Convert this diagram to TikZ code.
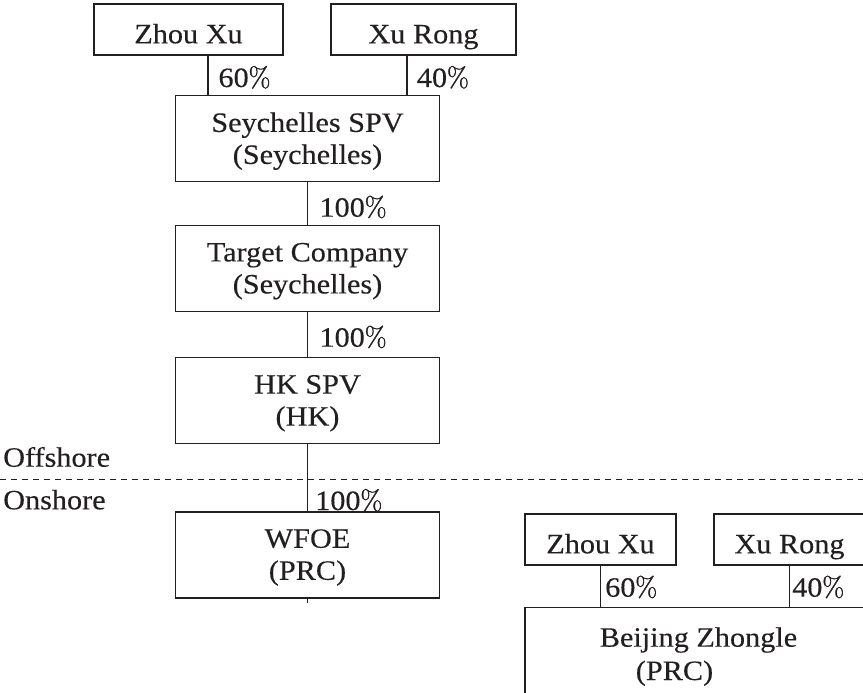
\documentclass[tikz,border=0pt]{standalone}
\usepackage{fontspec}
\setmainfont{Liberation Serif}[FakeStretch=1.08,FakeBold=0.25]
\newfontfamily\lmfont{Latin Modern Roman}[FakeBold=1.3]
\newcommand{\pc}{{\lmfont\%}}
\definecolor{ink}{HTML}{231F20}
\begin{document}
\begin{tikzpicture}[x=1pt,y=-1pt,
  font=\fontsize{28}{32}\selectfont, color=ink,
  frame/.style={draw=ink, line width=1.1pt, inner sep=0pt, minimum height=86pt, minimum width=264pt},
  owner/.style={frame, minimum height=51pt},
  txt/.style={align=center, inner sep=0pt},
  oneline/.style={anchor=base, inner sep=0pt},
  pct/.style={anchor=base west, inner sep=0pt},
  link/.style={draw=ink, line width=1.1pt},
  border/.style={draw=ink, line width=1pt, dash pattern=on 6pt off 5pt}]
\clip (0,0) rectangle (863,693);

% offshore structure
\node[owner, minimum width=189pt] (zx1) at (188.5,29.5) {};
\node[oneline] (zx1t) at ([yshift=-13.8pt]zx1.center) {Zhou Xu};
\node[owner, minimum width=185pt] (xr1) at (423.5,29.5) {};
\node[oneline] (xr1t) at ([yshift=-13.8pt]xr1.center) {Xu Rong};

\node[frame] (sey) at (307.5,138.7) {};
\node[txt] (seyt) at ([yshift=-2.5pt]sey.center) {Seychelles SPV\\(Seychelles)};
\node[frame] (tgt) at (307.5,268.7) {};
\node[txt] (tgtt) at ([yshift=-2.5pt]tgt.center) {Target Company\\(Seychelles)};
\node[frame] (hk) at (307.5,400.8) {};
\node[txt] (hkt) at ([yshift=-2.5pt]hk.center) {HK SPV\\(HK)};
\node[frame] (wfoe) at (307.5,555) {};
\node[txt] (wfoet) at ([yshift=-2.5pt]wfoe.center) {WFOE\\(PRC)};

\draw[link] ([xshift=19.5pt]zx1.south) -- ([xshift=19.5pt]zx1.south |- sey.north);
\draw[link] ([xshift=-16.5pt]xr1.south) -- ([xshift=-16.5pt]xr1.south |- sey.north);
\draw[link] (sey.south) -- (tgt.north);
\draw[link] (tgt.south) -- (hk.north);
\draw[link] (hk.south) -- (wfoe.north);
\coordinate (stub) at ([yshift=-4pt]wfoe.south);
\draw[link] (wfoe.south) -- (stub);

\node[pct] (p60a) at (218.3,87) {60\pc};
\node[pct] (p40a) at (416.7,87) {40\pc};
\node[pct] (p100a) at (319.3,216.7) {100\pc};
\node[pct] (p100b) at (319.3,346.7) {100\pc};
\node[pct] (p100c) at (315,510) {100\pc};

% offshore / onshore border
\coordinate (dl) at (0,479);
\coordinate (dr) at (863,479);
\draw[border] (dl) -- (dr);
\node[pct] (off) at (3,466.7) {Offshore};
\node[pct] (on) at (3,509.3) {Onshore};

% domestic company
\node[owner, minimum width=151pt] (zx2) at (600.5,539.5) {};
\node[oneline] (zx2t) at ([yshift=-13.8pt]zx2.center) {Zhou Xu};
\node[owner, minimum width=151pt] (xr2) at (789.5,539.5) {};
\node[oneline] (xr2t) at ([yshift=-13.8pt]xr2.center) {Xu Rong};
\node[frame, minimum width=355pt, minimum height=120pt] (bj) at (702.5,667.3) {};
\node[oneline] (bjt1) at (698.5,646.7) {Beijing Zhongle};
\node[oneline] (bjt2) at (674.5,680) {(PRC)};

\draw[link] (zx2.south) -- (zx2.south |- bj.north);
\draw[link] (xr2.south) -- (xr2.south |- bj.north);
\node[pct] (p60b) at (605,596.7) {60\pc};
\node[pct] (p40b) at (792,596.7) {40\pc};
\end{tikzpicture}
\end{document}
